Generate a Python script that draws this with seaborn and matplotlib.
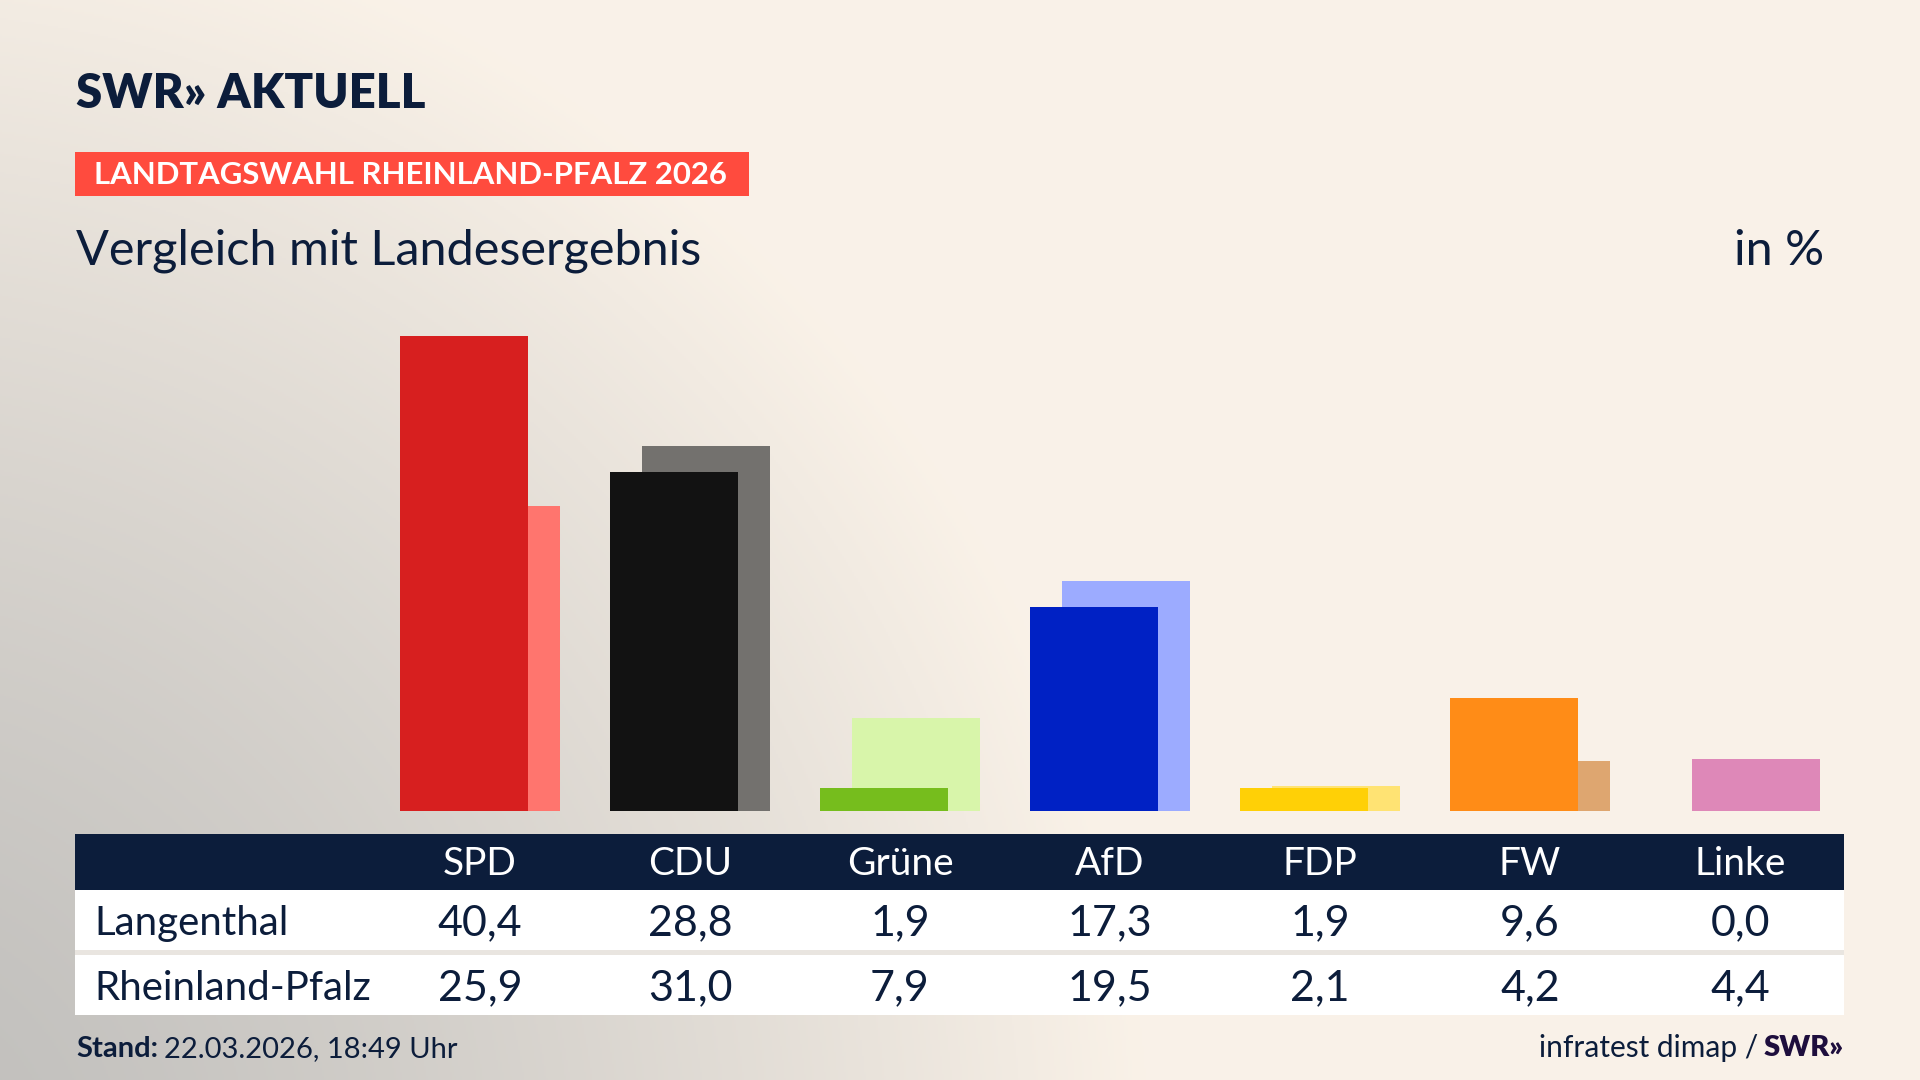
import numpy as np
import matplotlib
matplotlib.use('Agg')
import matplotlib.pyplot as plt
import matplotlib.transforms as mtransforms
from matplotlib.patches import Rectangle
import seaborn as sns

# Daten
parties = ['SPD', 'CDU', 'Grüne', 'AfD', 'FDP', 'FW', 'Linke']
langenthal = [40.4, 28.8, 1.9, 17.3, 1.9, 9.6, 0.0]
rheinland_pfalz = [25.9, 31.0, 7.9, 19.5, 2.1, 4.2, 4.4]
row_labels = ['Langenthal', 'Rheinland-Pfalz']
colors_main = ['#D71F1F', '#121212', '#76BD1D', '#0021C4', '#FFD006', '#FF8C17', '#BE3075']
colors_light = ['#FF756E', '#73716E', '#D8F5AA', '#9CABFF', '#FFE373', '#DEA670', '#DE88B8']

NAVY = '#0C1D3B'
FONT = ['Lato', 'DejaVu Sans']

sns.set_theme(style='white')
plt.rcParams['font.family'] = FONT

W, H = 1568, 882  # Referenz-Koordinaten


def fx(x):
    return x / W


def fy(y):
    return 1 - y / H


fig = plt.figure(figsize=(19.2, 10.8), dpi=100)

# Hintergrund: Verlauf von grau (unten links) zu creme
bg = fig.add_axes([0, 0, 1, 1], zorder=-10)
yy, xx = np.mgrid[0:540, 0:960]
d = np.hypot(xx / 960 * 1920 + 150, (540 - yy) / 540 * 1080 + 100)
t = np.clip(d / 1300, 0, 1) ** 1.4
gray = np.array([0.75, 0.745, 0.735])
cream = np.array([0.98, 0.949, 0.91])
img = gray + (cream - gray) * t[..., None]
bg.imshow(img, extent=[0, 1, 0, 1], aspect='auto', origin='upper')
bg.axis('off')

# Balken
ax = fig.add_axes([fx(306.25), fy(662), (1506.75 - 306.25) / W, (662 - 240) / H])
ax.set_facecolor('none')
bw = 104 / 171.5
shift = 13 / 171.5

sns.barplot(x=parties, y=rheinland_pfalz, hue=parties, order=parties, hue_order=parties,
            palette=dict(zip(parties, colors_light)), width=bw, saturation=1,
            errorbar=None, legend=False, linewidth=0, ax=ax)
n_back = len(ax.patches)
for p in ax.patches:
    p.set_x(p.get_x() + shift)
sns.barplot(x=parties, y=langenthal, hue=parties, order=parties, hue_order=parties,
            palette=dict(zip(parties, colors_main)), width=bw, saturation=1,
            errorbar=None, legend=False, linewidth=0, ax=ax)
for p in ax.patches[n_back:]:
    p.set_x(p.get_x() - shift)
ax.set_xlim(-0.5, 6.5)
ax.set_ylim(0, (662 - 240) / 9.6)
ax.axis('off')


def rect(x0, y0, x1, y1, color):
    fig.add_artist(Rectangle((fx(x0), fy(y1)), (x1 - x0) / W, (y1 - y0) / H,
                             transform=fig.transFigure, color=color, lw=0))


# Kopf
fig.text(fx(62), fy(77), 'SWR» AKTUELL', fontsize=34, fontweight='heavy',
         color=NAVY, va='center', ha='left')
rect(61, 124, 612, 160, '#FF4B3E')
fig.text(fx(77), fy(143), 'LANDTAGSWAHL RHEINLAND-PFALZ 2026', fontsize=22.4,
         fontweight='bold', color='white', va='center', ha='left')
fig.text(fx(62), fy(205), 'Vergleich mit Landesergebnis', fontsize=35,
         color=NAVY, va='center', ha='left')
fig.text(fx(1490), fy(205), 'in %', fontsize=35, color=NAVY, va='center', ha='right')

# Tabelle
rect(61, 681, 1506, 727, NAVY)
rect(61, 727, 1506, 776, '#FFFFFF')
rect(61, 776, 1506, 780, '#E9E5E0')
rect(61, 780, 1506, 829, '#FFFFFF')

colx = mtransforms.blended_transform_factory(ax.transData, fig.transFigure)
for i, name in enumerate(parties):
    fig.text(i, fy(706), name, transform=colx, fontsize=28, color='white',
             ha='center', va='center')
    fig.text(i, fy(754), f'{langenthal[i]:.1f}'.replace('.', ','), transform=colx,
             fontsize=31, color=NAVY, ha='center', va='center')
    fig.text(i, fy(807), f'{rheinland_pfalz[i]:.1f}'.replace('.', ','), transform=colx,
             fontsize=31, color=NAVY, ha='center', va='center')
fig.text(fx(77), fy(754), row_labels[0], fontsize=29, color=NAVY, va='center', ha='left')
fig.text(fx(77), fy(807), row_labels[1], fontsize=29, color=NAVY, va='center', ha='left')

# Fußzeile
renderer = fig.canvas.get_renderer()
t1 = fig.text(fx(62), fy(857), 'Stand:', fontsize=21, fontweight='bold',
              color=NAVY, va='center', ha='left')
bb = t1.get_window_extent(renderer).transformed(fig.transFigure.inverted())
fig.text(bb.x1 + 0.003, fy(857), '22.03.2026, 18:49 Uhr', fontsize=21,
         color=NAVY, va='center', ha='left')
t2 = fig.text(fx(1506), fy(856), 'SWR»', fontsize=21, fontweight='heavy',
              color='#1E0E3D', va='center', ha='right')
bb2 = t2.get_window_extent(renderer).transformed(fig.transFigure.inverted())
fig.text(bb2.x0 - 0.003, fy(856), 'infratest dimap /', fontsize=21.5,
         color=NAVY, va='center', ha='right')

fig.savefig('out.png', dpi=100)
